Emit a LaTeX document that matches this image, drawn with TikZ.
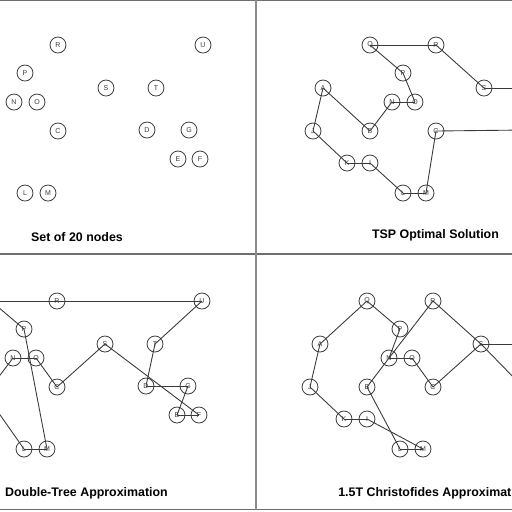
\documentclass[tikz,border=0pt]{standalone}
\usepackage{fontspec}
\setmainfont{Liberation Sans}
\definecolor{ink}{HTML}{3A3A3A}
\definecolor{frame}{HTML}{6E6E6E}
\tikzset{
  vtx/.style={circle,draw=ink,line width=0.45pt,minimum size=0.32cm,inner sep=0pt,
    font=\fontsize{4}{4}\selectfont,text=ink},
  edge/.style={draw=ink,line width=0.5pt},
  ttl/.style={font=\fontsize{7.06}{8}\selectfont\bfseries,text=black,inner sep=0pt,anchor=center},
  frm/.style={draw=frame,line width=0.6pt}
}
% global positions of the 20 nodes
\def\allnodes{Q/114/45, R/180/45, U/325/45, P/147/73, A/67/88, S/228/88,
  T/278/88, N/136/102, O/159/102, J/57/131, B/114/131, C/180/131, D/269/130,
  G/311/130, K/91/163, I/114/163, E/300/159, F/322/159, L/147/193, M/170/193}
% #1 prefix, #2 shift from global to panel-local x
\newcommand\placeall[2]{%
  \foreach \n/\x/\y in \allnodes {%
    \pgfmathtruncatemacro\lx{\x+(#2)}%
    \ifnum\lx<8
      \coordinate (#1\n) at (\x,\y);
    \else\ifnum\lx>264
      \coordinate (#1\n) at (\x,\y);
    \else
      \node[vtx] (#1\n) at (\x,\y) {\n};
    \fi\fi
  }%
}
\newcommand\joinall[2]{%
  \foreach \a/\b in {#2} {\draw[edge] (#1\a.center) -- (#1\b.center);}%
}
\begin{document}
\begin{tikzpicture}[x=0.02cm,y=-0.02cm]
\useasboundingbox (0,0) rectangle (512,512);
\fill[white] (0,0) rectangle (512,512);
% Panel 1
\begin{scope}
  \clip (0,0) rectangle (256,254);
  \begin{scope}[shift={(-122,0)}]
    \placeall{a}{-122}
  \end{scope}
  \node[ttl] (t1) at (77,237) {Set of 20 nodes};
\end{scope}
% Panel 2
\begin{scope}
  \clip (256,0) rectangle (512,254);
  \begin{scope}[shift={(256,0)}]
    \placeall{b}{0}
    \joinall{b}{Q/R, R/S, S/T, Q/P, P/O, O/N, N/B, B/A, A/J, J/K, K/I, I/L, L/M, M/C, C/D}
  \end{scope}
  \node[ttl] (t2) at (435.5,235.5) {TSP Optimal Solution};
\end{scope}
% Panel 3
\begin{scope}
  \clip (0,254) rectangle (256,509);
  \begin{scope}[shift={(-123,256)}]
    \placeall{c}{-123}
    \coordinate (cI) at (114,146);
    \joinall{c}{Q/R, R/U, U/T, T/D, D/G, G/E, E/F, F/S, S/C, C/O, O/N, N/B, I/L, L/M, M/P, P/Q}
  \end{scope}
  \node[ttl] (t3) at (86.5,493) {Double-Tree Approximation};
\end{scope}
% Panel 4
\begin{scope}
  \clip (256,254) rectangle (512,509);
  \begin{scope}[shift={(253,256)}]
    \placeall{d}{-3}
    \joinall{d}{Q/A, Q/P, P/N, N/R, R/S, S/T, S/D, S/C, C/O, O/N, N/B, B/L, L/M, M/I, I/K, K/J, J/A}
  \end{scope}
  \node[ttl,anchor=west] (t4) at (338,493) {1.5T Christofides Approximat};
\end{scope}
% frame lines
\coordinate (tl) at (0,0.5);
\coordinate (tr) at (512,0.5);
\coordinate (ml) at (0,254);
\coordinate (mr) at (512,254);
\coordinate (bl) at (0,509.5);
\coordinate (br) at (512,509.5);
\coordinate (vt) at (256,0);
\coordinate (vb) at (256,509.5);
\draw[frm] (tl) -- (tr);
\draw[frm] (ml) -- (mr);
\draw[frm] (bl) -- (br);
\draw[frm,line width=0.9pt,draw=frame!80] (vt) -- (vb);
\end{tikzpicture}
\end{document}
